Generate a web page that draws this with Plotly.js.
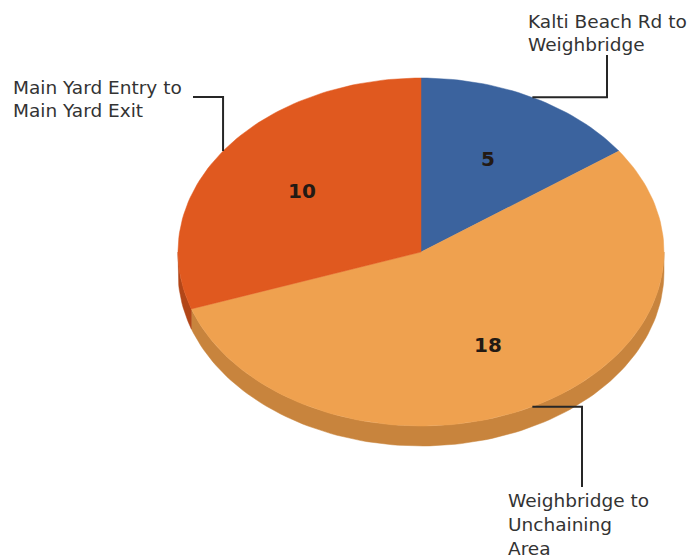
<!DOCTYPE html>
<html>
<head>
<meta charset="utf-8">
<script src="https://cdn.plot.ly/plotly-3.0.1.min.js"></script>
<style>html,body{margin:0;padding:0;background:#fff;}#chart{width:696px;height:559px;}</style>
</head>
<body>
<div id="chart"></div>
<script>
// ---- data ----
const categories = ["Kalti Beach Rd to Weighbridge", "Weighbridge to Unchaining Area", "Main Yard Entry to Main Yard Exit"];
const values = [5, 18, 10];
const labelLines = [["Kalti Beach Rd to", "Weighbridge"], ["Weighbridge to", "Unchaining", "Area"], ["Main Yard Entry to", "Main Yard Exit"]];

// ---- styling / layout ----
const topColors = ["#3b639e", "#efa14f", "#e0591f"];
const sideColors = ["#2b4b7a", "#c8843d", "#b24618"];
const cx = 421, cy = 252, rx = 243, ry = 174, depth = 20;
// label placement: left x, first line y, line spacing, leader elbow style
const labelPos = [
  {x: 526, y: 21, dy: 23, elbow: "h", lx: 607, ly: 55},
  {x: 506, y: 500, dy: 24, elbow: "h", lx: 582, ly: 487},
  {x: 11, y: 87, dy: 23, elbow: "v", lx: 193, ly: 97}
];

function pt(deg, r, dz) {
  const t = deg * Math.PI / 180;
  return [cx + r * rx * Math.sin(t), cy - r * ry * Math.cos(t) + (dz || 0)];
}
function arc(a0, a1, dz) {
  const xs = [], ys = [];
  const n = Math.max(2, Math.ceil(Math.abs(a1 - a0) / 1.5));
  for (let i = 0; i <= n; i++) {
    const p = pt(a0 + (a1 - a0) * i / n, 1, dz);
    xs.push(p[0]); ys.push(p[1]);
  }
  return [xs, ys];
}

const total = values.reduce((a, b) => a + b, 0);
const starts = [], ends = [];
let acc = 0;
values.forEach(v => { starts.push(acc / total * 360); acc += v; ends.push(acc / total * 360); });

const traces = [];
// sides (visible front half: 90..270 deg)
values.forEach((v, i) => {
  const s = Math.max(starts[i], 90), e = Math.min(ends[i], 270);
  if (e > s) {
    const [tx, ty] = arc(s, e, 0);
    const [bx, by] = arc(e, s, depth);
    traces.push({type: "scatter", mode: "lines", x: tx.concat(bx, [tx[0]]), y: ty.concat(by, [ty[0]]),
      fill: "toself", fillcolor: sideColors[i], line: {color: sideColors[i], width: 0.5}, hoverinfo: "skip"});
  }
});
// top faces
values.forEach((v, i) => {
  const [ax, ay] = arc(starts[i], ends[i], 0);
  traces.push({type: "scatter", mode: "lines", x: [cx].concat(ax, [cx]), y: [cy].concat(ay, [cy]),
    fill: "toself", fillcolor: topColors[i], line: {color: topColors[i], width: 0.5},
    name: categories[i], hoverinfo: "name"});
});
// leader lines and labels
const annotations = [];
values.forEach((v, i) => {
  const mid = (starts[i] + ends[i]) / 2;
  const p = pt(mid, 1, 0);
  const L = labelPos[i];
  let xs, ys;
  if (L.elbow === "h") { xs = [p[0], L.lx, L.lx]; ys = [p[1], p[1], L.ly]; }
  else { xs = [p[0], p[0], L.lx]; ys = [p[1], L.ly, L.ly]; }
  traces.push({type: "scatter", mode: "lines", x: xs, y: ys, line: {color: "#262626", width: 2}, hoverinfo: "skip"});
  const q = pt(mid, 0.6, 0);
  annotations.push({x: q[0], y: q[1], xref: "x", yref: "y", text: String(v), showarrow: false,
    font: {family: "DejaVu Sans", size: 20, color: "#231a14", weight: "bold"}});
  labelLines[i].forEach((t, k) => {
    annotations.push({x: L.x, y: L.y + k * L.dy, xref: "x", yref: "y", text: t, showarrow: false,
      xanchor: "left", yanchor: "middle", font: {family: "DejaVu Sans", size: 18.5, color: "#333333"}});
  });
});

const layout = {
  width: 696, height: 559, margin: {l: 0, r: 0, t: 0, b: 0},
  paper_bgcolor: "#ffffff", plot_bgcolor: "#ffffff", showlegend: false,
  xaxis: {range: [0, 696], visible: false, fixedrange: true},
  yaxis: {range: [559, 0], visible: false, fixedrange: true},
  annotations: annotations
};
Plotly.newPlot("chart", traces, layout, {displayModeBar: false, staticPlot: true});
</script>
</body>
</html>
